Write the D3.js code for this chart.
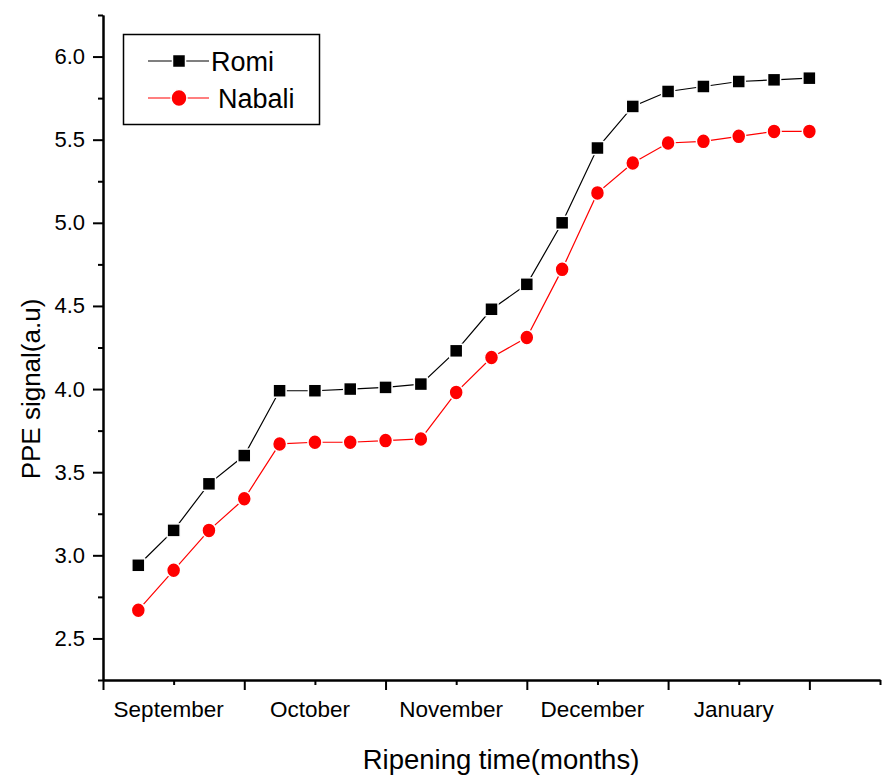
<!DOCTYPE html>
<html>
<head>
<meta charset="utf-8">
<script src="https://cdn.jsdelivr.net/npm/d3@7"></script>
<style>
  body { margin: 0; background: #fff; }
  svg text { font-family: "Liberation Sans", Arial, sans-serif; fill: #000; }
</style>
</head>
<body>
<div id="chart"></div>
<script>
// sample index along ripening time
const sampleIdx = [1, 2, 3, 4, 5, 6, 7, 8, 9, 10, 11, 12, 13, 14, 15, 16, 17, 18, 19, 20];

const romi = [2.94, 3.15, 3.43, 3.60, 3.99, 3.99, 4.00, 4.01, 4.03, 4.23,
  4.48, 4.63, 5.00, 5.45, 5.70, 5.79, 5.82, 5.85, 5.86, 5.87];

const nabali = [2.67, 2.91, 3.15, 3.34, 3.67, 3.68, 3.68, 3.69, 3.70, 3.98,
  4.19, 4.31, 4.72, 5.18, 5.36, 5.48, 5.49, 5.52, 5.55, 5.55];

const monthLabels = ['September', 'October', 'November', 'December', 'January'];
const monthPos = [2, 6, 10, 14, 18];

const yMajor = [2.5, 3.0, 3.5, 4.0, 4.5, 5.0, 5.5, 6.0];
const yMinor = [2.25, 2.75, 3.25, 3.75, 4.25, 4.75, 5.25, 5.75, 6.25];
const xMajor = [0, 4, 8, 12, 16, 20];
const xMinor = [2, 6, 10, 14, 18, 22];

const width = 888;
const height = 776;

const svg = d3.select('#chart')
  .append('svg')
  .attr('width', width)
  .attr('height', height);

const x = d3.scaleLinear().domain([0, 22]).range([103, 880]);
const y = d3.scaleLinear().domain([2.25, 6.25]).range([680, 15]);

// y axis: labelled majors + short minors
const yAxisMinor = svg.append('g')
  .attr('transform', `translate(${x(0)},0)`)
  .call(d3.axisLeft(y).tickValues(yMinor).tickSize(5).tickSizeOuter(0).tickFormat(''));
const yAxis = svg.append('g')
  .attr('transform', `translate(${x(0)},0)`)
  .call(d3.axisLeft(y).tickValues(yMajor).tickSize(10).tickSizeOuter(0)
    .tickPadding(8).tickFormat(d3.format('.1f')));

// x axis
const xAxisMinor = svg.append('g')
  .attr('transform', `translate(0,${y(2.25)})`)
  .call(d3.axisBottom(x).tickValues(xMinor).tickSize(5).tickSizeOuter(0).tickFormat(''));
const xAxis = svg.append('g')
  .attr('transform', `translate(0,${y(2.25)})`)
  .call(d3.axisBottom(x).tickValues(xMajor).tickSize(10).tickSizeOuter(0).tickFormat(''));

[yAxisMinor, yAxis, xAxisMinor, xAxis].forEach(g => {
  g.select('.domain').attr('stroke', '#000').attr('stroke-width', 2);
  g.selectAll('.tick line').attr('stroke', '#000').attr('stroke-width', 2);
});
yAxis.selectAll('.tick text').style('font-size', '22px');

// month labels sit under the minor ticks
svg.append('g')
  .selectAll('text')
  .data(monthLabels)
  .enter()
  .append('text')
  .attr('x', (d, i) => x(monthPos[i]) - 5)
  .attr('y', 717)
  .attr('text-anchor', 'middle')
  .style('font-size', '22.5px')
  .text(d => d);

// axis titles
svg.append('text')
  .attr('x', 501)
  .attr('y', 769)
  .attr('text-anchor', 'middle')
  .style('font-size', '27.5px')
  .text('Ripening time(months)');

svg.append('text')
  .attr('transform', 'translate(40,389) rotate(-90)')
  .attr('text-anchor', 'middle')
  .style('font-size', '26px')
  .text('PPE signal(a.u)');

const line = d3.line()
  .x((d, i) => x(sampleIdx[i]))
  .y(d => y(d));

// Romi - black squares
svg.append('path')
  .datum(romi)
  .attr('fill', 'none')
  .attr('stroke', '#000')
  .attr('stroke-width', 1.2)
  .attr('d', line);

svg.append('g')
  .selectAll('rect')
  .data(romi)
  .enter()
  .append('rect')
  .attr('x', (d, i) => x(sampleIdx[i]) - 6.5)
  .attr('y', d => y(d) - 6.5)
  .attr('width', 13)
  .attr('height', 13)
  .attr('fill', '#000')
  .attr('stroke', '#fff')
  .attr('stroke-width', 1.5);

// Nabali - red circles
svg.append('path')
  .datum(nabali)
  .attr('fill', 'none')
  .attr('stroke', '#ff0000')
  .attr('stroke-width', 1.2)
  .attr('d', line);

svg.append('g')
  .selectAll('ellipse')
  .data(nabali)
  .enter()
  .append('ellipse')
  .attr('cx', (d, i) => x(sampleIdx[i]))
  .attr('cy', d => y(d))
  .attr('rx', 7)
  .attr('ry', 7.5)
  .attr('fill', '#ff0000')
  .attr('stroke', '#fff')
  .attr('stroke-width', 1.5);

// legend
const legend = svg.append('g');
legend.append('rect')
  .attr('x', 123.5)
  .attr('y', 34.5)
  .attr('width', 196)
  .attr('height', 90)
  .attr('fill', '#fff')
  .attr('stroke', '#000')
  .attr('stroke-width', 1.5);

legend.append('line')
  .attr('x1', 148).attr('x2', 209).attr('y1', 61).attr('y2', 61)
  .attr('stroke', '#000').attr('stroke-width', 1.2);
legend.append('rect')
  .attr('x', 172.5).attr('y', 54.5).attr('width', 13).attr('height', 13)
  .attr('fill', '#000').attr('stroke', '#fff').attr('stroke-width', 1.5);
legend.append('text')
  .attr('x', 211).attr('y', 70.5)
  .style('font-size', '27px')
  .text('Romi');

legend.append('line')
  .attr('x1', 148).attr('x2', 209).attr('y1', 98).attr('y2', 98)
  .attr('stroke', '#ff0000').attr('stroke-width', 1.2);
legend.append('ellipse')
  .attr('cx', 179).attr('cy', 98).attr('rx', 8).attr('ry', 8.5)
  .attr('fill', '#ff0000').attr('stroke', '#fff').attr('stroke-width', 1.5);
legend.append('text')
  .attr('x', 218).attr('y', 108)
  .style('font-size', '27px')
  .text('Nabali');
</script>
</body>
</html>
